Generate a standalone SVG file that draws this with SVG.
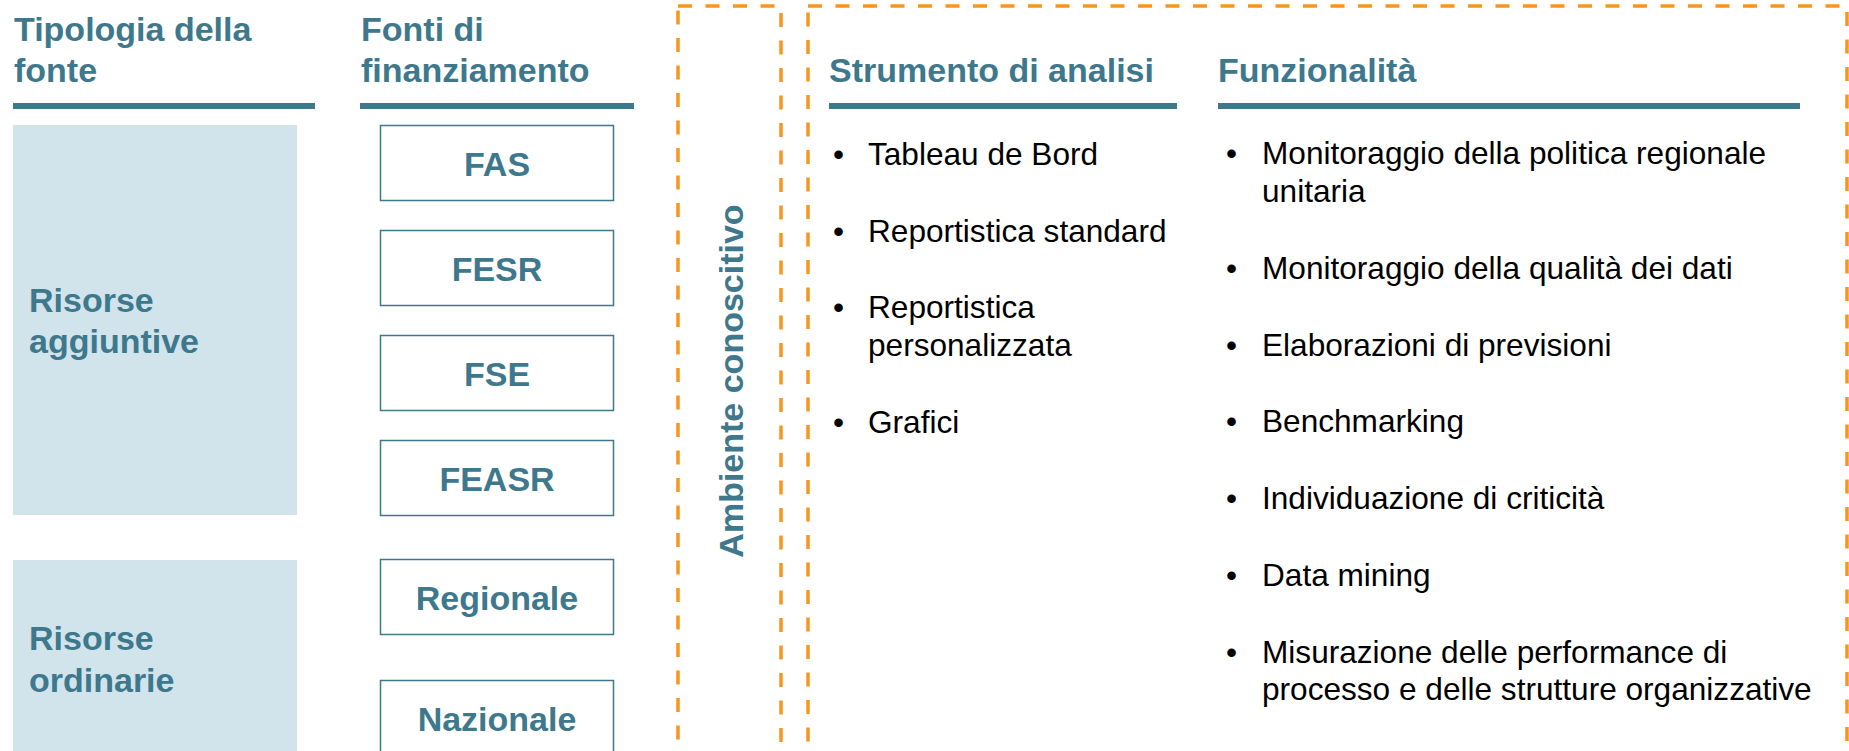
<svg xmlns="http://www.w3.org/2000/svg" width="1849" height="751" viewBox="0 0 1849 751">
<style>
.hd{font-family:"Liberation Sans",Arial,sans-serif;font-weight:bold;font-size:34px;fill:#3e788c}
.bx{fill:#ffffff;stroke:#3e788c;stroke-width:1.5}
.lt{fill:#d1e4eb}
.ul{fill:#3e788c}
.bl{font-family:"Liberation Sans",Arial,sans-serif;font-size:31.6px;fill:#000000}
.dash{fill:none;stroke:#f7961e;stroke-width:3.5;stroke-dasharray:14 13.5}
.ct{text-anchor:middle}
</style>
<rect width="1849" height="751" fill="#ffffff"/>
<g id="headers">
<text class="hd" x="14" y="40.5">Tipologia della</text>
<text class="hd" x="14" y="82">fonte</text>
<rect class="ul" x="13" y="103" width="302" height="6"/>
<text class="hd" x="361" y="40.5">Fonti di</text>
<text class="hd" x="361" y="82">finanziamento</text>
<rect class="ul" x="360" y="103" width="274" height="6"/>
</g>
<g id="risorse-aggiuntive">
<rect class="lt" x="13" y="125" width="284" height="390"/>
<text class="hd" x="29" y="312">Risorse</text>
<text class="hd" x="29" y="353">aggiuntive</text>
</g>
<g id="risorse-ordinarie">
<rect class="lt" x="13" y="560" width="284" height="200"/>
<text class="hd" x="29" y="650">Risorse</text>
<text class="hd" x="29" y="692">ordinarie</text>
</g>
<g id="fas">
<rect class="bx" x="380.5" y="125.5" width="233" height="75"/>
<text class="hd ct" x="497" y="176">FAS</text>
</g>
<g id="fesr">
<rect class="bx" x="380.5" y="230.5" width="233" height="75"/>
<text class="hd ct" x="497" y="281">FESR</text>
</g>
<g id="fse">
<rect class="bx" x="380.5" y="335.5" width="233" height="75"/>
<text class="hd ct" x="497" y="386">FSE</text>
</g>
<g id="feasr">
<rect class="bx" x="380.5" y="440.5" width="233" height="75"/>
<text class="hd ct" x="497" y="491">FEASR</text>
</g>
<g id="regionale">
<rect class="bx" x="380.5" y="559.5" width="233" height="75"/>
<text class="hd ct" x="497" y="609.5">Regionale</text>
</g>
<g id="nazionale">
<rect class="bx" x="380.5" y="680.5" width="233" height="75"/>
<text class="hd ct" x="497" y="730.5">Nazionale</text>
</g>
<g id="ambiente-conoscitivo">
<rect class="dash" x="678" y="6" width="103" height="800"/>
<text class="hd ct" transform="translate(743,381) rotate(-90)">Ambiente conoscitivo</text>
</g>
<g id="strumenti-funzionalita">
<rect class="dash" x="808" y="6" width="1039" height="800"/>
<text class="hd" x="829" y="82">Strumento di analisi</text>
<rect class="ul" x="829" y="103" width="348" height="6"/>
<text class="hd" x="1218" y="82">Funzionalità</text>
<rect class="ul" x="1218" y="103" width="582" height="6"/>
</g>
<g id="strumento-list">
<text class="bl" x="833" y="165">•</text><text class="bl" x="868" y="165">Tableau de Bord</text>
<text class="bl" x="833" y="241.5">•</text><text class="bl" x="868" y="241.5">Reportistica standard</text>
<text class="bl" x="833" y="318">•</text><text class="bl" x="868" y="318">Reportistica</text>
<text class="bl" x="868" y="356">personalizzata</text>
<text class="bl" x="833" y="433">•</text><text class="bl" x="868" y="433">Grafici</text>
</g>
<g id="funzionalita-list">
<text class="bl" x="1226" y="164">•</text><text class="bl" x="1262" y="164">Monitoraggio della politica regionale</text>
<text class="bl" x="1262" y="201.5">unitaria</text>
<text class="bl" x="1226" y="278.5">•</text><text class="bl" x="1262" y="278.5">Monitoraggio della qualità dei dati</text>
<text class="bl" x="1226" y="356">•</text><text class="bl" x="1262" y="356">Elaborazioni di previsioni</text>
<text class="bl" x="1226" y="432">•</text><text class="bl" x="1262" y="432">Benchmarking</text>
<text class="bl" x="1226" y="509">•</text><text class="bl" x="1262" y="509">Individuazione di criticità</text>
<text class="bl" x="1226" y="586">•</text><text class="bl" x="1262" y="586">Data mining</text>
<text class="bl" x="1226" y="663">•</text><text class="bl" x="1262" y="663">Misurazione delle performance di</text>
<text class="bl" x="1262" y="700">processo e delle strutture organizzative</text>
</g>
<g id="connectors"></g>
</svg>
